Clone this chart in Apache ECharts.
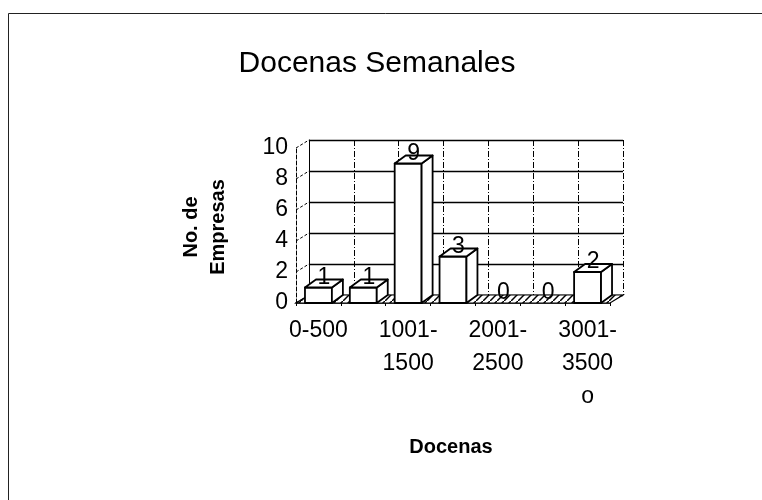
<!DOCTYPE html>
<html><head><meta charset="utf-8">
<script src="https://cdn.jsdelivr.net/npm/echarts@6/dist/echarts.min.js"></script>
<style>html,body{margin:0;background:#fff}#c{width:762px;height:500px}</style>
</head><body><div id="c"></div>
<script>
const categories = ["0-500", "501-\n1000", "1001-\n1500", "1501-\n2000", "2001-\n2500", "2501-\n3000", "3001-\n3500\no"];
const values = [1, 1, 9, 3, 0, 0, 2];
const yTicks = [0, 2, 4, 6, 8, 10];
const titleText = "Docenas Semanales";
const xName = "Docenas";
const yName = "No. de\nEmpresas";

const FONT = "Liberation Sans";
const DX = 13, DY = -8;      // wall depth
const BDX = 11, BDY = -8;    // bar depth

const pc = document.createElement('canvas');
pc.width = 7; pc.height = 7;
const g = pc.getContext('2d');
g.fillStyle = '#fff'; g.fillRect(0, 0, 7, 7);
g.strokeStyle = '#000'; g.lineWidth = 1.5;
g.beginPath(); g.moveTo(-1, 8); g.lineTo(8, -1); g.stroke();

const chart = echarts.init(document.getElementById('c'), null, {renderer: 'canvas'});

function leftEdge(api, v) {
  const c = api.coord([0, v]);
  return [c[0] - api.size([1, 0])[0] / 2, c[1]];
}
function rightEdge(api, v) {
  const c = api.coord([categories.length - 1, v]);
  return [c[0] + api.size([1, 0])[0] / 2, c[1]];
}

const option = {
  animation: false,
  title: {
    text: titleText, left: 372, top: 44, textAlign: 'center',
    textStyle: {fontFamily: FONT, fontSize: 30, fontWeight: 'normal', color: '#000'}
  },
  graphic: [
    {type: 'rect', shape: {x: 8.5, y: 13.5, width: 780, height: 520}, style: {fill: null, stroke: '#222', lineWidth: 1}, z: 0},
    {type: 'text', x: 451, y: 447, style: {text: xName, font: 'bold 20px "' + FONT + '"', fill: '#000', align: 'center', verticalAlign: 'middle'}},
    {type: 'text', x: 205, y: 227, rotation: Math.PI / 2, style: {text: yName, font: 'bold 20px "' + FONT + '"', fill: '#000', align: 'center', verticalAlign: 'middle', lineHeight: 27}}
  ],
  grid: [
    {left: 309, right: 139, top: 140, bottom: 205},
    {left: 296, right: 152, top: 148, bottom: 197}
  ],
  xAxis: [
    {type: 'category', gridIndex: 0, data: categories, axisLabel: {show: false}, axisTick: {show: false},
     axisLine: {show: false},
     splitLine: {show: true, interval: 0, lineStyle: {color: '#000', type: [6, 2, 1, 2], width: 1}}},
    {type: 'category', gridIndex: 1, data: categories,
     axisLine: {show: true, lineStyle: {color: '#000', width: 1.5}},
     axisTick: {show: true, interval: 0, length: 3, lineStyle: {color: '#000'}},
     axisLabel: {interval: 1, margin: 11, fontFamily: FONT, fontSize: 23, lineHeight: 33, color: '#000'}}
  ],
  yAxis: [
    {type: 'value', gridIndex: 0, min: 0, max: 10, interval: 2, axisLabel: {show: false}, axisTick: {show: false},
     axisLine: {show: true, lineStyle: {color: '#000', type: [6, 2, 1, 2]}},
     splitLine: {show: true, lineStyle: {color: '#000', width: 1.4}}},
    {type: 'value', gridIndex: 1, min: 0, max: 10, interval: 2,
     axisLine: {show: true, lineStyle: {color: '#000', type: [4, 2]}},
     axisTick: {show: false}, splitLine: {show: false},
     axisLabel: {margin: 8, fontFamily: FONT, fontSize: 23, color: '#000'}}
  ],
  series: [
    {
      type: 'custom', xAxisIndex: 1, yAxisIndex: 1, z: 2, silent: true,
      data: [[0, 0]],
      renderItem: function (params, api) {
        const fl = leftEdge(api, 0), fr = rightEdge(api, 0);
        return {
          type: 'polygon',
          shape: {points: [fl, fr, [fr[0] + DX, fr[1] + DY], [fl[0] + DX, fl[1] + DY]]},
          style: {fill: {image: pc, repeat: 'repeat'}, stroke: '#000', lineWidth: 1.2}
        };
      }
    },
    {
      type: 'custom', xAxisIndex: 1, yAxisIndex: 1, z: 2, silent: true,
      data: yTicks.map(v => [0, v]),
      renderItem: function (params, api) {
        const p = leftEdge(api, api.value(1));
        return {type: 'line', shape: {x1: p[0], y1: p[1], x2: p[0] + DX, y2: p[1] + DY},
                style: {stroke: '#000', lineWidth: 1, lineDash: [3, 2]}};
      }
    },
    {
      type: 'custom', xAxisIndex: 1, yAxisIndex: 1, z: 3, silent: true,
      data: categories.map((c, i) => [i, values[i]]),
      renderItem: function (params, api) {
        const v = api.value(1);
        const base = api.coord([api.value(0), 0]);
        const top = api.coord([api.value(0), v]);
        const w = api.size([1, 0])[0] * 0.6;
        const l = base[0] - w / 2, r = base[0] + w / 2;
        const b = base[1], t = top[1];
        const st = {fill: '#fff', stroke: '#000', lineWidth: 1.8, lineJoin: 'round'};
        const children = [];
        if (v > 0) {
          children.push({type: 'polygon', shape: {points: [[l, t], [r, t], [r, b], [l, b]]}, style: st});
          children.push({type: 'polygon', shape: {points: [[r, t], [r + BDX, t + BDY], [r + BDX, b + BDY], [r, b]]}, style: st});
          children.push({type: 'polygon', shape: {points: [[l, t], [l + BDX, t + BDY], [r + BDX, t + BDY], [r, t]]}, style: st});
        }
        children.push({type: 'text', x: (l + r) / 2 + BDX / 2, y: t - 10,
          style: {text: String(v), font: '23px "' + FONT + '"', fill: '#000', align: 'center', verticalAlign: 'middle'}});
        return {type: 'group', children: children};
      }
    }
  ]
};
chart.setOption(option);
</script>
</body></html>
